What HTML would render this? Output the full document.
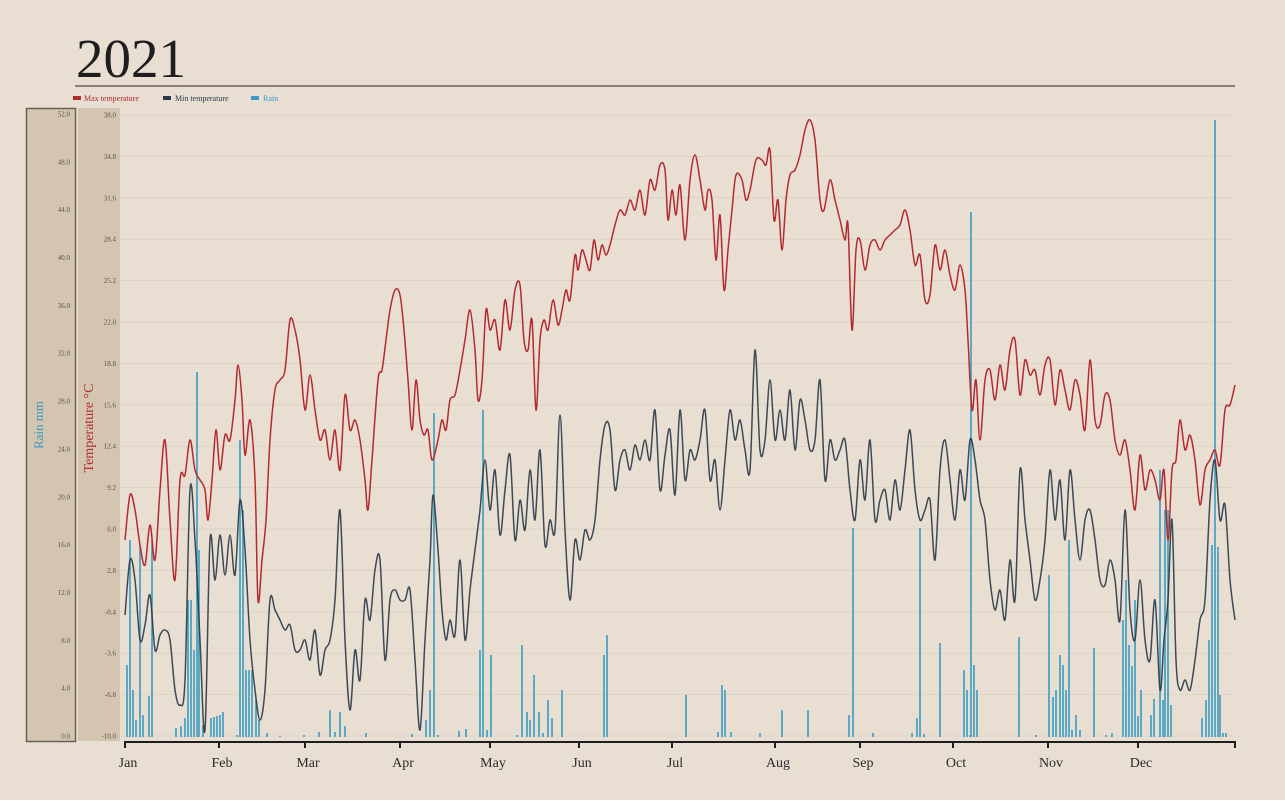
<!DOCTYPE html>
<html><head><meta charset="utf-8"><style>
html,body{margin:0;padding:0;background:#e8dfd2;}
body{width:1285px;height:800px;overflow:hidden;position:relative;font-family:"Liberation Serif",serif;}
</style></head><body>
<svg id="s" width="1285" height="800" xmlns="http://www.w3.org/2000/svg" style="position:absolute;left:0;top:0">
<rect x="0" y="0" width="1285" height="800" fill="#e8dfd2"/>
<text x="76" y="77" font-family="Liberation Serif,serif" font-size="55" fill="#1e1e1e">2021</text>
<line x1="75" y1="86" x2="1235" y2="86" stroke="#6b6055" stroke-width="1.5"/>
<rect x="73" y="96" width="8" height="4" fill="#b52a2e"/>
<text x="84" y="101" font-size="8" fill="#b52a2e">Max temperature</text>
<rect x="163" y="96" width="8" height="4" fill="#2b3848"/>
<text x="175" y="101" font-size="8" fill="#2b3848">Min temperature</text>
<rect x="251" y="96" width="8" height="4" fill="#3a9cc4"/>
<text x="263" y="101" font-size="8" fill="#3a9cc4">Rain</text>
<rect x="26.5" y="108.5" width="49" height="633" fill="#d4c5b1" stroke="#6b6055" stroke-width="1.5"/>
<rect x="78" y="108" width="42" height="633" fill="#d4c5b1"/>
<text transform="translate(43,425) rotate(-90)" text-anchor="middle" font-size="13" fill="#3a9cc4">Rain mm</text>
<text transform="translate(93,428) rotate(-90)" text-anchor="middle" font-size="14" fill="#b52a2e">Temperature °C</text>
<g id="g"></g>
</svg>
<script>
var NS="http://www.w3.org/2000/svg",g=document.getElementById('g');
function el(t,a,txt){var e=document.createElementNS(NS,t);for(var k in a)e.setAttribute(k,a[k]);if(txt!=null)e.textContent=txt;g.appendChild(e);return e;}
for(var i=0;i<16;i++){var T=38-3.2*i;var y=115+i*(621/15);
 el('line',{x1:120,x2:1235,y1:y,y2:y,stroke:'#ddd3c5','stroke-width':1});
 el('text',{x:116,y:y+2.5,'text-anchor':'end','font-size':7,fill:'#5a5048'},T.toFixed(1));}
for(var i=0;i<14;i++){var v=52-4*i;var y=114+i*(622/13);
 el('text',{x:70,y:y+2.5,'text-anchor':'end','font-size':7,fill:'#5a5048'},v.toFixed(1));}
var rain=[[127,665],[130,540],[133,690],[136,720],[140,545],[143,715],[149,696],[152,540],[176,728],[181,726],[185,718],[188,600],[191,600],[194,650],[197,372],[199,550],[203,725],[211,718],[214,717],[217,716],[220,715],[223,712],[237,735],[240,440],[243,510],[246,670],[249,670],[252,670],[256,700],[259,720],[267,733],[280,736],[304,735],[319,732],[330,710],[335,732],[340,712],[345,726],[366,733],[412,734],[426,720],[430,690],[434,413],[438,735],[459,731],[466,729],[480,650],[483,410],[487,730],[491,655],[517,735],[522,645],[527,712],[530,720],[534,675],[539,712],[543,733],[548,700],[552,718],[562,690],[604,655],[607,635],[686,695],[718,732],[722,685],[725,690],[731,732],[760,733],[782,710],[808,710],[849,715],[853,528],[873,733],[912,733],[917,718],[920,528],[924,734],[940,643],[964,670],[967,690],[970,735],[971,212],[974,665],[977,690],[1019,637],[1036,735],[1049,575],[1053,697],[1056,690],[1060,655],[1063,665],[1066,690],[1069,540],[1072,730],[1076,715],[1080,730],[1094,648],[1106,735],[1112,733],[1123,620],[1126,580],[1129,645],[1132,666],[1135,600],[1138,716],[1141,690],[1151,715],[1154,699],[1160,470],[1163,700],[1165,510],[1168,510],[1171,705],[1202,718],[1206,700],[1209,640],[1212,545],[1215,120],[1218,547],[1220,695],[1223,733],[1226,733]];
rain.forEach(function(r){el('rect',{x:r[0]-0.8,y:r[1],width:1.6,height:737-r[1],fill:'#3a9cc4'});});
function path(p){var d='M'+p[0][0]+','+p[0][1];for(var i=0;i<p.length-1;i++){var p0=p[Math.max(0,i-1)],p1=p[i],p2=p[i+1],p3=p[Math.min(p.length-1,i+2)];
 d+=' C'+(p1[0]+(p2[0]-p0[0])/6)+','+(p1[1]+(p2[1]-p0[1])/6)+' '+(p2[0]-(p3[0]-p1[0])/6)+','+(p2[1]-(p3[1]-p1[1])/6)+' '+p2[0]+','+p2[1];}return d;}
function pts(a){var r=[];for(var i=0;i<a.length;i+=2)r.push([a[i],a[i+1]]);return r;}
var mx=pts([125,540,130,495,135,510,140,545,145,565,150,525,155,560,160,490,165,440,170,520,175,580,180,480,185,475,190,440,195,470,200,480,205,490,208,520,212,480,216,430,220,470,225,435,230,440,235,400,238,365,242,400,245,455,250,420,255,480,258,600,262,560,266,520,270,440,275,390,280,380,285,370,290,320,295,330,300,360,305,410,310,375,315,410,320,440,325,430,330,460,335,430,340,470,345,395,350,430,355,420,360,440,365,480,368,510,372,460,378,380,382,370,386,340,390,310,395,290,400,295,404,330,408,380,412,430,416,380,420,420,424,435,428,430,432,460,438,440,442,420,446,430,450,400,455,395,460,370,465,340,470,310,475,350,478,400,482,380,486,310,490,330,495,320,500,350,505,300,510,330,515,290,520,285,524,340,528,350,532,320,536,410,540,340,544,320,548,330,553,300,558,325,562,310,566,290,570,300,575,255,578,270,582,250,586,260,590,270,594,240,598,260,602,245,606,255,610,245,615,225,620,210,625,215,630,200,635,210,640,190,645,215,650,180,655,190,660,165,665,170,668,220,672,190,676,215,680,185,685,240,690,180,695,155,700,180,705,210,708,190,712,200,716,260,720,215,724,290,728,250,732,210,736,175,742,180,746,200,750,190,756,160,762,160,766,165,770,150,774,220,778,200,782,250,786,200,790,175,795,170,800,155,805,130,810,120,815,140,820,200,824,210,830,180,835,200,840,220,845,240,848,225,852,330,856,250,860,240,865,270,870,245,875,240,880,250,885,240,890,235,895,230,900,225,905,210,910,230,915,265,920,255,925,300,930,295,935,245,940,270,945,250,950,275,955,290,960,265,965,290,968,340,972,410,976,380,980,440,985,380,990,370,995,400,1000,365,1005,390,1010,350,1015,340,1020,395,1025,360,1030,375,1035,370,1040,395,1045,365,1050,360,1055,405,1060,370,1065,390,1070,410,1075,380,1080,395,1085,430,1090,360,1095,420,1100,425,1105,395,1110,400,1115,440,1120,455,1125,440,1130,470,1135,510,1140,455,1145,490,1150,470,1155,480,1160,500,1164,470,1168,540,1172,470,1176,460,1180,420,1185,450,1190,435,1195,460,1200,505,1205,470,1210,460,1215,450,1220,465,1225,410,1230,405,1235,385]);
var mn=pts([125,615,130,560,135,580,140,640,145,625,150,595,155,650,160,635,165,630,170,640,175,690,180,705,185,680,190,490,195,540,200,640,205,730,210,540,215,580,220,535,225,575,230,535,235,575,240,500,245,550,250,640,255,690,260,720,265,690,270,600,275,610,280,620,285,630,290,625,295,650,300,650,305,640,310,660,315,630,320,675,325,650,330,640,335,600,340,510,345,640,350,710,355,650,360,680,365,600,370,620,375,570,380,560,385,660,390,600,395,590,400,600,405,600,410,590,415,660,420,730,425,640,430,560,433,495,438,550,442,610,446,640,450,620,455,635,460,560,465,640,470,590,475,550,480,510,485,460,490,510,495,470,500,535,505,490,510,455,515,540,520,500,525,530,530,470,535,520,540,450,545,545,550,520,555,530,560,415,565,530,570,600,575,540,580,560,585,530,590,540,595,520,600,460,605,425,610,430,615,490,620,460,625,450,630,470,635,445,640,460,645,440,650,460,655,410,660,490,665,455,670,430,675,495,680,410,685,480,690,450,695,460,700,440,705,410,710,480,715,460,720,510,725,460,730,410,735,440,740,420,745,450,750,470,755,350,760,450,765,440,770,380,775,440,780,410,785,440,790,390,795,450,800,400,805,420,810,450,815,440,820,380,825,480,830,440,835,460,840,450,845,440,850,490,855,520,860,460,865,500,870,440,875,520,880,500,885,490,890,520,895,480,900,510,905,470,910,430,915,490,920,520,925,510,930,500,935,560,940,470,945,440,950,480,955,520,960,470,965,500,970,440,975,460,980,500,985,520,990,580,995,610,1000,590,1005,620,1010,560,1015,600,1020,470,1025,520,1030,560,1035,600,1040,580,1045,540,1050,470,1055,520,1060,480,1065,540,1070,470,1075,520,1080,560,1085,520,1090,510,1095,540,1100,580,1105,585,1110,560,1115,580,1120,620,1125,510,1130,610,1135,640,1140,580,1145,640,1150,660,1155,600,1160,690,1164,640,1168,600,1172,520,1176,660,1180,690,1185,680,1190,690,1195,660,1200,620,1205,600,1210,500,1215,460,1220,520,1225,505,1230,580,1235,620]);
el('path',{d:path(mn),fill:'none',stroke:'#2b3848','stroke-width':1.5,'stroke-opacity':0.9});
el('path',{d:path(mx),fill:'none',stroke:'#b52a2e','stroke-width':1.5});
el('line',{x1:125,x2:1235,y1:742,y2:742,stroke:'#1e1e1e','stroke-width':2});
var m=[['Jan',125],['Feb',219],['Mar',305],['Apr',400],['May',490],['Jun',579],['Jul',672],['Aug',775],['Sep',860],['Oct',953],['Nov',1048],['Dec',1138]];
m.forEach(function(a){el('line',{x1:a[1],x2:a[1],y1:741,y2:748,stroke:'#1e1e1e','stroke-width':2});
 el('text',{x:a[1]+3,y:767,'text-anchor':'middle','font-size':14,fill:'#2a2a2a'},a[0]);});
el('line',{x1:1235,x2:1235,y1:741,y2:748,stroke:'#1e1e1e','stroke-width':2});
</script>
</body></html>
